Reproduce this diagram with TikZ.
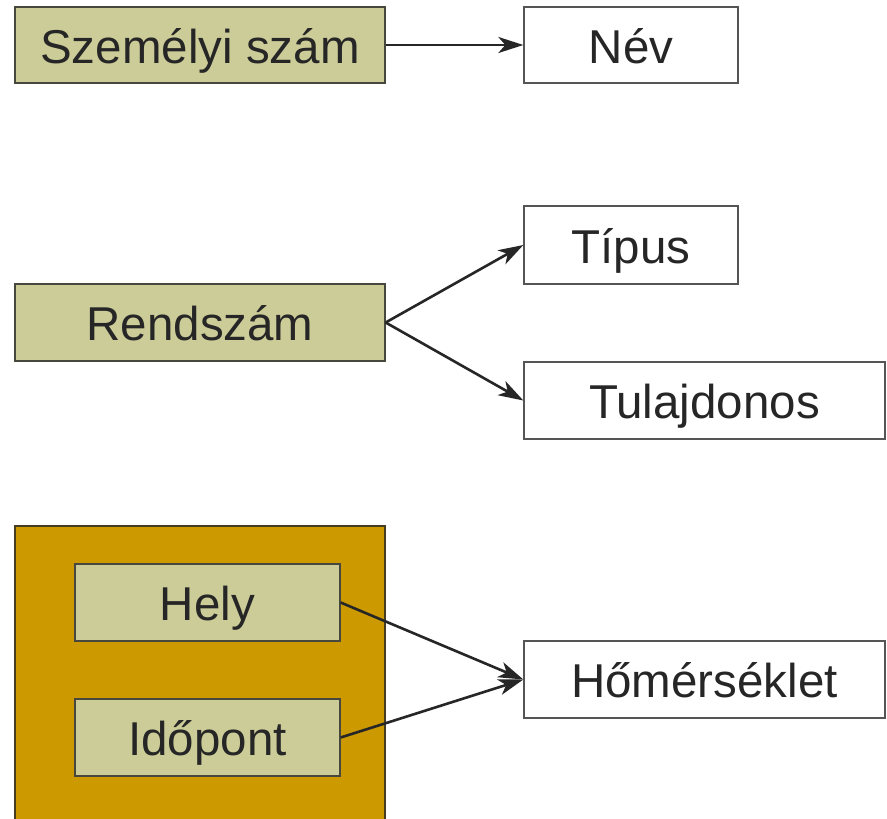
\documentclass[tikz,border=0pt]{standalone}
\usepackage{fontspec}
\setmainfont{Liberation Sans}
\usetikzlibrary{arrows.meta}
\definecolor{keyfill}{HTML}{CCCC99}
\definecolor{groupfill}{HTML}{CC9900}
\definecolor{edgegray}{HTML}{555555}
\definecolor{ink}{HTML}{262626}
\tikzset{
  box/.style={draw=edgegray, line width=1.3pt, inner sep=0pt, text=ink,
    text height=36pt, text depth=0pt,
    font=\fontsize{47.5}{56}\selectfont},
  keybox/.style={box, fill=keyfill, draw=ink!80!keyfill},
  valbox/.style={box, fill=white},
  dep/.style={draw=ink, line width=2.6pt,
    -{Stealth[length=25pt, width=16pt, inset=7pt]}}
}
\begin{document}
\begin{tikzpicture}[x=1pt, y=-1pt]
  \clip (0,0) rectangle (887,819);
  \fill[white] (0,0) rectangle (887,819);

  % simple key -> attribute
  \node[keybox, minimum width=370pt, minimum height=76pt] (szem) at (200,45) {Személyi szám};
  \node[valbox, minimum width=214pt, minimum height=76pt] (nev) at (631,45) {Név};

  % one key, two dependent attributes
  \node[keybox, minimum width=370pt, minimum height=77pt] (rend) at (200,322.5) {Rendszám};
  \node[valbox, minimum width=214pt, minimum height=78pt] (tipus) at (631,245) {Típus};
  \node[valbox, minimum width=361pt, minimum height=77pt] (tulaj) at (704.5,400.5) {Tulajdonos};

  % composite key
  \draw[draw=ink!80!groupfill, line width=1.3pt, fill=groupfill] (15,526) rectangle (385,840);
  \node[keybox, minimum width=265pt, minimum height=77pt] (hely) at (207.5,602.5) {Hely};
  \node[keybox, minimum width=265pt, minimum height=77pt] (ido) at (207.5,737.5) {Időpont};
  \node[valbox, minimum width=361pt, minimum height=77pt] (hom) at (704.5,679.5) {Hőmérséklet};

  \draw[dep] (szem.east) -- (nev.west);
  \draw[dep] (rend.east) -- (tipus.west);
  \draw[dep] (rend.east) -- (tulaj.west);
  \draw[dep] (hely.east) -- (hom.west);
  \draw[dep] (ido.east) -- (hom.west);
\end{tikzpicture}
\end{document}
